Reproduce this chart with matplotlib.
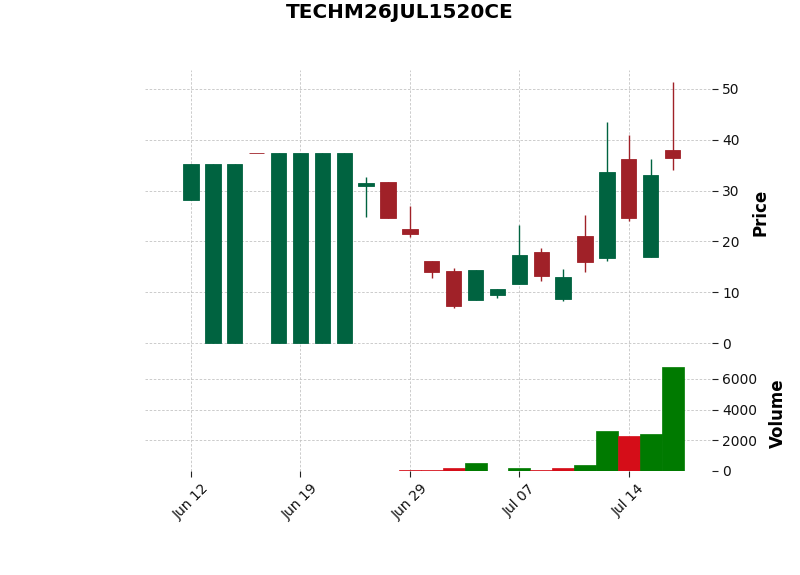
import matplotlib
matplotlib.use("Agg")
import matplotlib.pyplot as plt
from matplotlib.patches import Rectangle
import numpy as np
import datetime as dt

title = "TECHM26JUL1520CE"
dates = ["2023-06-12", "2023-06-13", "2023-06-14", "2023-06-15", "2023-06-16",
         "2023-06-19", "2023-06-20", "2023-06-21", "2023-06-22", "2023-06-23",
         "2023-06-29", "2023-06-30", "2023-07-03", "2023-07-04", "2023-07-05",
         "2023-07-07", "2023-07-10", "2023-07-11", "2023-07-12", "2023-07-13",
         "2023-07-14", "2023-07-17", "2023-07-18"]
opens  = [28.2, 0.0, 0.0, 37.4, 0.0, 0.0, 0.0, 0.0, 31.0, 31.6,
          22.5, 16.1, 14.1, 8.4, 9.4, 11.7, 17.85, 8.7, 21.0, 16.8,
          36.15, 17.0, 37.9]
highs  = [35.15, 35.15, 35.15, 37.4, 37.4, 37.4, 37.4, 37.4, 32.7, 31.6,
          27.0, 16.1, 14.76, 14.4, 10.55, 23.2, 18.7, 14.6, 25.2, 43.5,
          40.9, 36.2, 51.3]
lows   = [28.2, 0.0, 0.0, 37.4, 0.0, 0.0, 0.0, 0.0, 24.9, 24.7,
          20.9, 12.8, 6.8, 8.4, 8.8, 11.7, 12.2, 8.3, 14.0, 16.1,
          24.0, 16.9, 34.0]
closes = [35.15, 35.15, 35.15, 37.4, 37.4, 37.4, 37.4, 37.4, 31.5, 24.7,
          21.5, 13.9, 7.35, 14.3, 10.55, 17.25, 13.2, 13.0, 15.9, 33.7,
          24.7, 33.1, 36.5]
volumes = [0, 0, 0, 0, 0, 0, 0, 0, 0, 0,
           90, 90, 200, 510, 0, 200, 90, 200, 400, 2580,
           2300, 2380, 6800]

UP, DOWN = "#006340", "#a02128"
VUP, VDOWN = "#007a00", "#d50d18"
GRID = "#c4c4c4"

fig = plt.figure(figsize=(8, 5.75), dpi=100)
fig.patch.set_facecolor("white")
ax = fig.add_axes([145/800, 1 - 355/575, (712-145)/800, (355-70)/575])
axv = fig.add_axes([145/800, 1 - 471/575, (712-145)/800, (471-355)/575], sharex=ax)

n = len(dates)
x = np.arange(n)
w = 0.7
for i in x:
    o, h, l, c = opens[i], highs[i], lows[i], closes[i]
    col = UP if c > o else DOWN
    ax.vlines(i, l, h, color=col, linewidth=1.0, zorder=2)
    bottom = min(o, c)
    height = abs(c - o)
    ax.add_patch(Rectangle((i - w/2, bottom), w, max(height, 0.0001),
                           facecolor=col, edgecolor=col, linewidth=0.6, zorder=3))

vcols = []
for i in x:
    if i == 0:
        vcols.append(VUP if closes[i] >= opens[i] else VDOWN)
    else:
        vcols.append(VUP if closes[i] > closes[i-1] else VDOWN)
axv.bar(x, volumes, width=1.0, color=vcols, edgecolor=vcols, linewidth=0.5, zorder=3)

for a in (ax, axv):
    a.set_facecolor("white")
    a.grid(True, color=GRID, linestyle=(0, (3, 2)), linewidth=0.6, zorder=0)
    a.set_axisbelow(True)
    for s in a.spines.values():
        s.set_visible(False)
    a.yaxis.tick_right()
    a.yaxis.set_label_position("right")
    a.tick_params(axis="both", labelsize=10, length=4, color="#222222", labelcolor="#111111")

ax.set_xlim(-2.1, 23.8)
ax.set_ylim(-2.36, 53.74)
ax.set_yticks([0, 10, 20, 30, 40, 50])
axv.set_ylim(0, 7560)
axv.set_yticks([0, 2000, 4000, 6000])

tick_idx = [0, 5, 10, 15, 20]
axv.set_xticks(tick_idx)
axv.set_xticklabels([dt.datetime.strptime(dates[i], "%Y-%m-%d").strftime("%b %d") for i in tick_idx],
                    rotation=45, ha="center")
plt.setp(ax.get_xticklabels(), visible=False)
ax.tick_params(axis="x", length=0)

ax.set_ylabel("Price", fontsize=12, fontweight="bold", labelpad=8)
axv.set_ylabel("Volume", fontsize=12, fontweight="bold", labelpad=8)
fig.suptitle(title, fontsize=14.4, fontweight="bold", y=0.995)

fig.savefig("out.png", dpi=100, facecolor="white")
